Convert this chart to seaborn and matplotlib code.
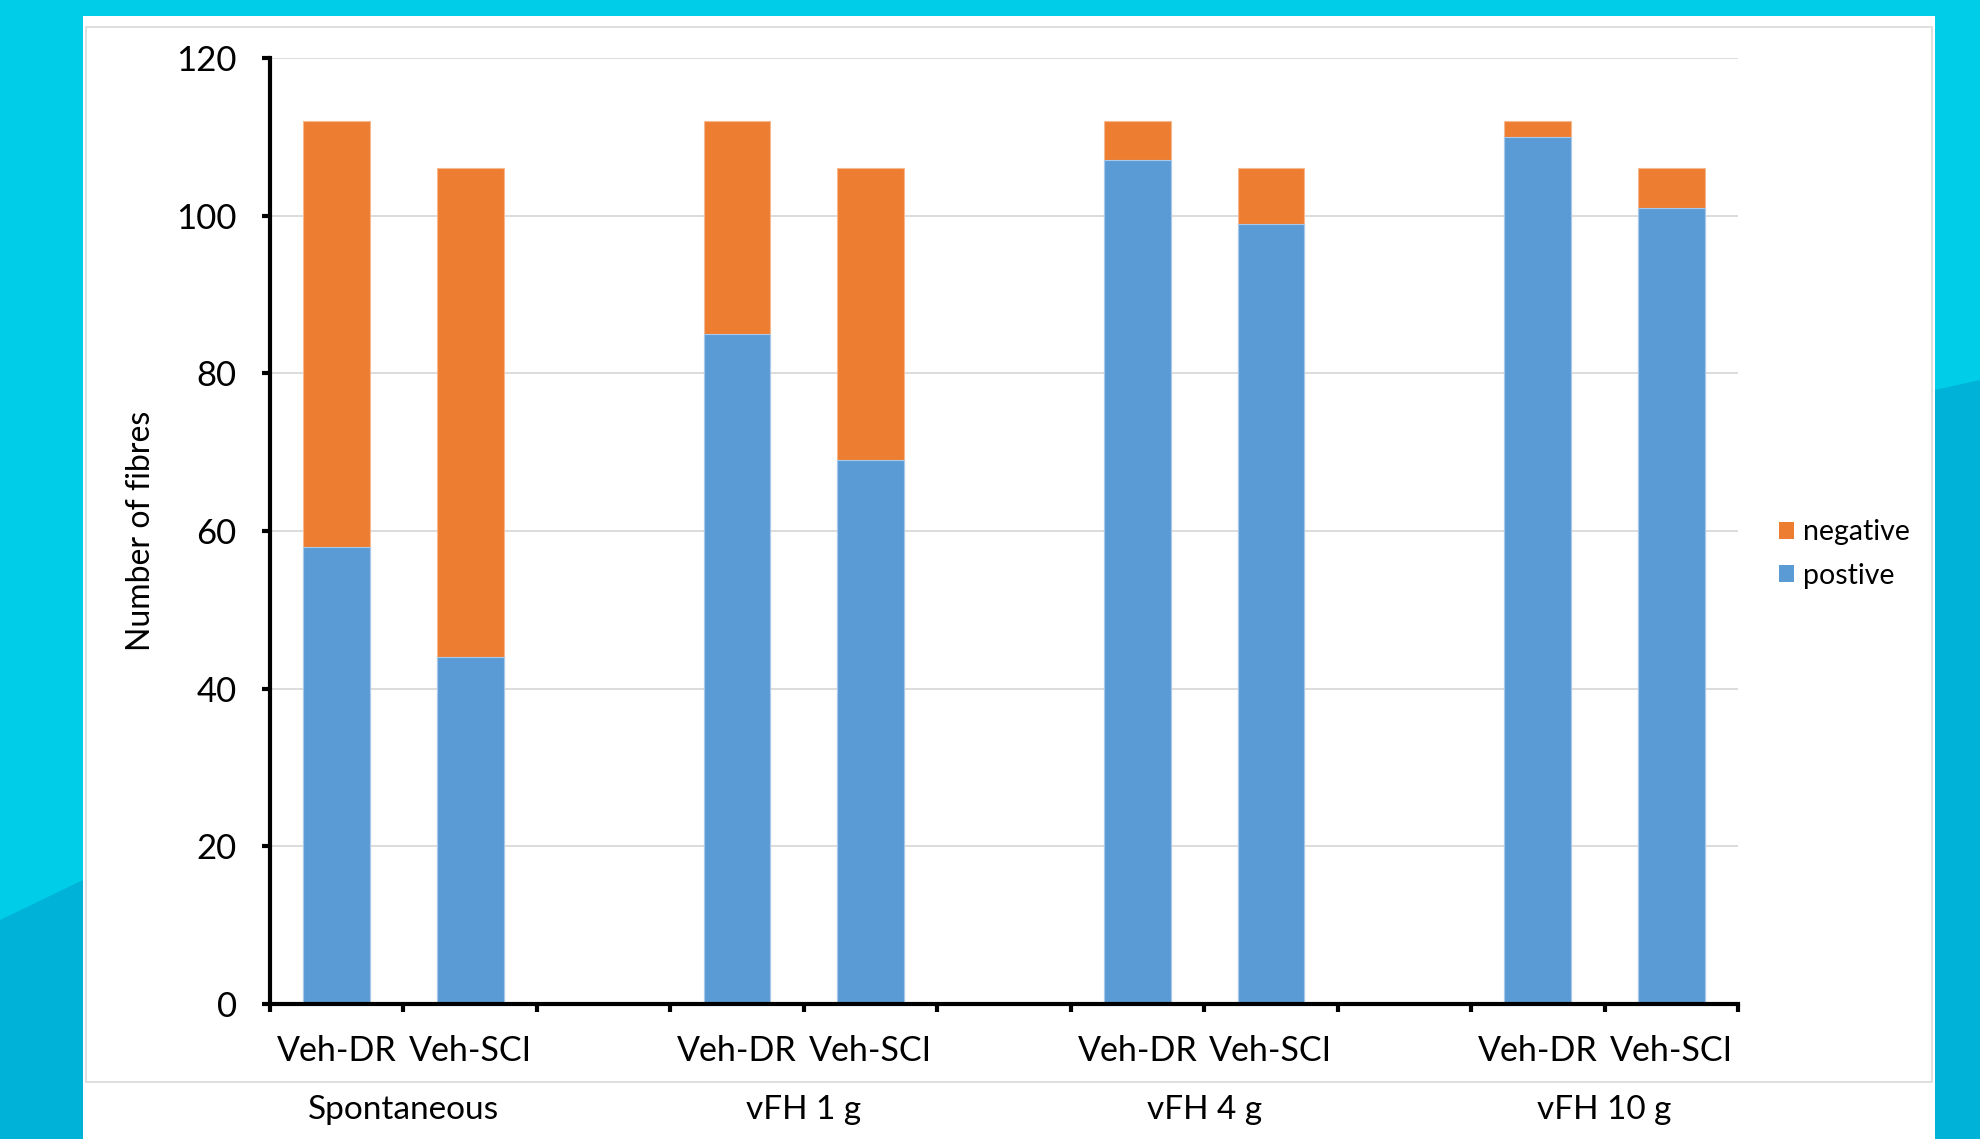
import numpy as np
import pandas as pd
import matplotlib
matplotlib.use("Agg")
import matplotlib.pyplot as plt
import matplotlib.transforms as mtransforms
from matplotlib.patches import Rectangle, Polygon, Patch
import seaborn as sns

# ---- data ----
groups = ["Spontaneous", "vFH 1 g", "vFH 4 g", "vFH 10 g"]
conditions = ["Veh-DR", "Veh-SCI"]
positive = [58, 44, 85, 69, 107, 99, 110, 101]
negative = [54, 62, 27, 37, 5, 7, 2, 5]
yticks = [0, 20, 40, 60, 80, 100, 120]

ORANGE = "#ED7D31"
BLUE = "#5B9BD5"

sns.set_style("white")
plt.rcParams["font.family"] = ["Lato", "DejaVu Sans"]

W, H = 1980, 1139
fig = plt.figure(figsize=(W / 100, H / 100), dpi=100)
fig.patch.set_facecolor("#00CDE7")

# backdrop: darker lower band and white slide panel
def fx(px):
    return px / W

def fy(py):
    return 1 - py / H

fig.patches.append(Polygon([(fx(0), fy(920)), (fx(83), fy(880)), (fx(1935), fy(390)),
                            (fx(1980), fy(380)), (fx(1980), 0), (0, 0)],
                           closed=True, transform=fig.transFigure,
                           facecolor="#00B2D8", edgecolor="none", zorder=-3))
fig.patches.append(Rectangle((fx(83), 0), fx(1935) - fx(83), fy(16),
                             transform=fig.transFigure, facecolor="white",
                             edgecolor="none", zorder=-2))
fig.patches.append(Rectangle((fx(86), fy(1082)), fx(1932) - fx(86), fy(27) - fy(1082),
                             transform=fig.transFigure, facecolor="none",
                             edgecolor="#D9D9D9", linewidth=1.2, zorder=-1))

ax = fig.add_axes([fx(270), fy(1004), fx(1738) - fx(270), fy(58) - fy(1004)])
ax.set_facecolor("none")

# bar slots: two conditions per group with an empty slot between groups
xpos = [3 * g + m for g in range(len(groups)) for m in range(len(conditions))]
totals = [p + n for p, n in zip(positive, negative)]
df = pd.DataFrame({"x": xpos, "total": totals, "positive": positive})

sns.barplot(data=df, x="x", y="total", native_scale=True, width=0.5,
            color=ORANGE, saturation=1, edgecolor="#F6B88F", linewidth=0.8,
            ax=ax, zorder=3)
sns.barplot(data=df, x="x", y="positive", native_scale=True, width=0.5,
            color=BLUE, saturation=1, edgecolor="#A9C9EA", linewidth=0.8,
            ax=ax, zorder=3)

ax.set_xlim(-0.5, 10.5)
ax.set_ylim(0, 120)

# gridlines
ax.set_yticks(yticks)
ax.yaxis.grid(True, color="#D9D9D9", linewidth=1.3)
ax.set_axisbelow(True)

for side in ["top", "right"]:
    ax.spines[side].set_visible(False)
for side in ["left", "bottom"]:
    ax.spines[side].set_color("black")
    ax.spines[side].set_linewidth(3)
    ax.spines[side].set_zorder(5)

# y axis ticks
ax.tick_params(axis="y", which="major", direction="out", length=6, width=3,
               color="black", labelcolor="black", labelsize=25, pad=18, left=True)
ax.set_ylabel("Number of fibres", fontsize=23, color="black", va="center")
ax.yaxis.set_label_coords(-0.088, 0.5)

# x axis: major ticks on slot boundaries, condition labels at bar centres
ax.set_xticks(np.arange(-0.5, 11, 1.0))
ax.set_xticklabels([])
ax.tick_params(axis="x", which="major", direction="out", length=6, width=3,
               color="black", bottom=True)
ax.set_xticks(xpos, minor=True)
ax.set_xticklabels([conditions[i % 2] for i in range(len(xpos))], minor=True)
ax.tick_params(axis="x", which="minor", length=0, labelsize=24.5,
               labelcolor="black", pad=22)
ax.set_xlabel("")

# group labels under each pair
trans = mtransforms.blended_transform_factory(ax.transData, fig.transFigure)
for g, name in enumerate(groups):
    ax.text(3 * g + 0.5, fy(1110), name, transform=trans, ha="center",
            va="center", fontsize=24, color="black", clip_on=False)

handles = [Patch(facecolor=ORANGE, edgecolor="none", label="negative"),
           Patch(facecolor=BLUE, edgecolor="none", label="postive")]
fig.legend(handles=handles, loc="center left", bbox_to_anchor=(fx(1753), fy(554)),
           frameon=False, fontsize=20.5, handlelength=0.55, handleheight=0.55,
           handletextpad=0.3, labelspacing=0.6, labelcolor="black")

fig.savefig("out.png", dpi=100)
